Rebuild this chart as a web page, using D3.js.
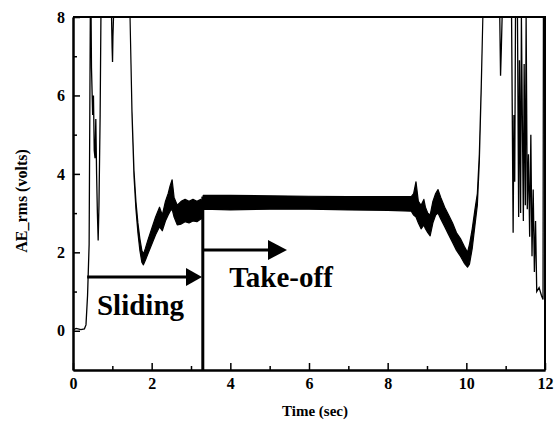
<!DOCTYPE html>
<html><head><meta charset="utf-8">
<script src="https://cdn.jsdelivr.net/npm/d3@7"></script>
<style>
html,body{margin:0;padding:0;background:#fff;}
text{font-family:"Liberation Serif","Times New Roman",serif;font-weight:bold;fill:#000;}
</style></head>
<body><svg id="c" width="557" height="421"></svg>
<script>
// ---- data ----
const xTicks = [0, 2, 4, 6, 8, 10, 12];
const xMinor = [1, 3, 5, 7, 9, 11];
const yTicks = [0, 2, 4, 6, 8];
const yMinor = [1, 3, 5, 7];

// thin trace at the start (time s, AE_rms V)
const startT = [0, 0.08, 0.2, 0.29, 0.33, 0.37, 0.41, 0.44, 0.46, 0.47, 0.5, 0.52, 0.54, 0.56, 0.58, 0.6, 0.62, 0.64, 0.66, 0.69, 0.71, 0.98, 0.995, 1.005, 1.015, 1.03, 1.05, 1.45];
const startV = [0.02, 0.06, 0.03, 0.05, 0.15, 0.9, 2.2, 8, 8, 6.7, 5.5, 6.0, 4.6, 4.4, 5.4, 4.0, 3.0, 2.3, 3.2, 5.5, 8, 8, 7.2, 6.85, 7.5, 8, 8, 8];

// thick (noisy) part: lower and upper envelope
const bandT  = [1.45, 1.5, 1.55, 1.6, 1.65, 1.7, 1.75, 1.79, 1.84, 1.9, 2.0, 2.1, 2.2, 2.27, 2.35, 2.42, 2.47, 2.52, 2.57, 2.65, 2.75, 2.85, 2.95, 3.05, 3.15, 3.25, 3.29, 3.31, 4, 5, 6, 7, 8, 8.6, 8.66, 8.72, 8.78, 8.85, 8.92, 8.96, 9.02, 9.08, 9.15, 9.22, 9.28, 9.35, 9.45, 9.55, 9.65, 9.75, 9.85, 9.95, 10.03, 10.08, 10.15, 10.22, 10.28, 10.33, 10.38, 10.42];
const bandLo = [8, 5.5, 3.95, 3.1, 2.5, 2.05, 1.75, 1.68, 1.8, 1.95, 2.2, 2.45, 2.65, 2.55, 2.8, 2.95, 3.05, 3.1, 2.9, 2.7, 2.72, 2.78, 2.75, 2.8, 2.78, 2.85, 2.85, 3.1, 3.08, 3.1, 3.1, 3.08, 3.07, 3.05, 2.95, 2.9, 2.75, 2.6, 2.7, 2.6, 2.5, 2.42, 2.75, 2.95, 3.0, 2.85, 2.65, 2.45, 2.25, 2.05, 1.9, 1.72, 1.62, 1.7, 2.1, 2.7, 3.2, 4.3, 6.2, 8];
const bandHi = [8, 5.6, 4.1, 3.3, 2.75, 2.35, 2.05, 1.95, 2.1, 2.3, 2.6, 2.9, 3.15, 2.95, 3.3, 3.5, 3.7, 3.85, 3.4, 3.2, 3.3, 3.35, 3.3, 3.35, 3.3, 3.35, 3.3, 3.45, 3.45, 3.44, 3.43, 3.42, 3.42, 3.42, 3.5, 3.8, 3.3, 3.2, 3.35, 3.15, 3.0, 2.95, 3.3, 3.5, 3.6, 3.4, 3.15, 2.95, 2.75, 2.5, 2.35, 2.15, 2.0, 2.2, 2.6, 3.1, 3.5, 4.5, 6.3, 8];

// thin trace at the end
const endT = [10.42, 10.85, 10.87, 10.89, 10.91, 11.15, 11.19, 11.21, 11.23, 11.25, 11.3, 11.33, 11.35, 11.38, 11.4, 11.43, 11.45, 11.47, 11.5, 11.52, 11.55, 11.58, 11.61, 11.64, 11.67, 11.7, 11.73, 11.76, 11.79, 11.85, 11.91, 11.95, 11.96, 12];
const endV = [8, 8, 6.5, 7.2, 8, 8, 2.5, 5.5, 3.8, 8, 8, 2.9, 6.9, 3.0, 8, 4.8, 2.8, 6.8, 3.2, 8, 3.1, 4.5, 2.4, 5.0, 1.9, 3.6, 1.5, 2.8, 1.0, 1.1, 0.9, 0.8, 8, 8];

// annotations
const slideArrow = {t0: 0.36, t1: 3.28, v: 1.37};
const takeArrow = {t0: 3.3, t1: 5.44, v: 2.06};
const markLine = {t: 3.3, v0: -1, v1: 3.42};
const labels = [{text: "Sliding", t: 0.61, v: 0.4}, {text: "Take-off", t: 3.97, v: 1.12}];

// ---- drawing ----
const svg = d3.select("#c");
const x = d3.scaleLinear().domain([0, 12]).range([73, 545]);
const y = d3.scaleLinear().domain([-1, 8]).range([370, 17]);

const pts = (T, V) => T.map((t, i) => [t, V[i]]);
const line = d3.line().x(d => x(d[0])).y(d => y(d[1]));

// signal
svg.append("path").datum(pts(startT, startV)).attr("d", line)
  .attr("fill", "none").attr("stroke", "#000").attr("stroke-width", 1.3);
svg.append("path").datum(pts(endT, endV)).attr("d", line)
  .attr("fill", "none").attr("stroke", "#000").attr("stroke-width", 1.3);
const band = bandT.map((t, i) => ({t, lo: bandLo[i], hi: bandHi[i]}));
svg.append("path").datum(band)
  .attr("d", d3.area().x(d => x(d.t)).y0(d => y(d.lo)).y1(d => y(d.hi)))
  .attr("fill", "#000").attr("stroke", "#000").attr("stroke-width", 1.2).attr("stroke-linejoin", "round");

// frame
svg.append("path").attr("d", `M${x(0)},${y(8)}H${x(12)}V${y(-1)}`)
  .attr("fill", "none").attr("stroke", "#000").attr("stroke-width", 2);

// axes
const gx = svg.append("g").attr("transform", `translate(0,${y(-1)})`)
  .call(d3.axisBottom(x).tickValues(xTicks).tickSize(-7).tickSizeOuter(0).tickPadding(8).tickFormat(d3.format("d")));
svg.append("g").attr("transform", `translate(0,${y(-1)})`)
  .call(d3.axisBottom(x).tickValues(xMinor).tickSize(-4).tickSizeOuter(0).tickFormat(""));
const gy = svg.append("g").attr("transform", `translate(${x(0)},0)`)
  .call(d3.axisLeft(y).tickValues(yTicks).tickSize(-7).tickSizeOuter(0).tickPadding(8).tickFormat(d3.format("d")));
svg.append("g").attr("transform", `translate(${x(0)},0)`)
  .call(d3.axisLeft(y).tickValues(yMinor).tickSize(-4).tickSizeOuter(0).tickFormat(""));
svg.selectAll(".domain").attr("stroke", "#000").attr("stroke-width", 2);
svg.selectAll(".tick line").attr("stroke", "#000").attr("stroke-width", 1.5);
svg.selectAll(".tick text").style("font-family", '"Liberation Serif",serif').style("font-weight", "bold").style("font-size", "16px");

// axis titles
svg.append("text").attr("x", 315).attr("y", 416).attr("text-anchor", "middle")
  .style("font-size", "15px").text("Time (sec)");
svg.append("text").attr("transform", "translate(27,201) rotate(-90)").attr("text-anchor", "middle")
  .style("font-size", "16px").text("AE_rms (volts)");

// annotations
function arrow(a, len, hw) {
  const xa = x(a.t0), xb = x(a.t1), yy = y(a.v);
  svg.append("line").attr("x1", xa).attr("x2", xb - len + 1).attr("y1", yy).attr("y2", yy)
    .attr("stroke", "#000").attr("stroke-width", 3);
  svg.append("path").attr("d", `M${xb},${yy}L${xb - len},${yy - hw}L${xb - len},${yy + hw}Z`).attr("fill", "#000");
}
arrow(slideArrow, 16, 9);
arrow(takeArrow, 19, 10);
svg.append("line").attr("x1", x(markLine.t)).attr("x2", x(markLine.t))
  .attr("y1", y(markLine.v0)).attr("y2", y(markLine.v1)).attr("stroke", "#000").attr("stroke-width", 3);
labels.forEach(l => svg.append("text").attr("x", x(l.t)).attr("y", y(l.v))
  .style("font-size", "29px").text(l.text));
</script></body></html>
